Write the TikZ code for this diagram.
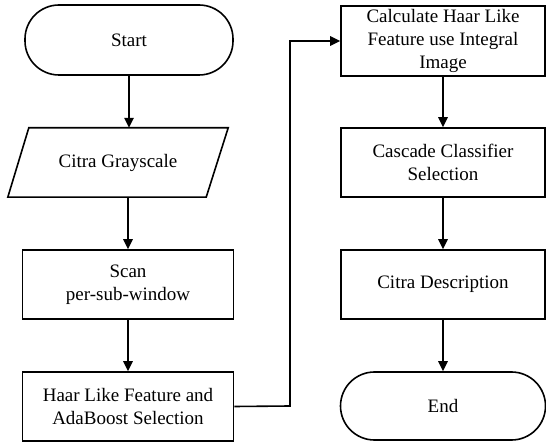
\documentclass[tikz,border=0pt]{standalone}
\usepackage{fontspec}
\setmainfont{Liberation Serif}
\usetikzlibrary{arrows.meta}

\tikzset{
  box/.style={draw, line width=1.6pt, rectangle, align=center,
    font=\fontsize{19}{23}\selectfont, inner sep=0pt},
  terminal/.style={box, rounded corners=34pt},
  plain/.style={align=center, font=\fontsize{19}{23}\selectfont, inner sep=0pt},
  arr/.style={line width=1.6pt, -{Triangle[length=10pt,width=9.5pt]}},
  link/.style={line width=1.6pt}
}

\begin{document}
\begin{tikzpicture}[x=1pt, y=-1pt]
  \useasboundingbox (0,0) rectangle (546,443);

  % left column
  \node[terminal, minimum width=208pt, minimum height=70pt] (start) at (129,40) {Start};
  \node[plain, minimum width=220pt, minimum height=69pt] (gray) at (118,162.5) {Citra Grayscale};
  \draw[link, line join=miter]
    (gray.south west) -- ([xshift=-22pt]gray.south east) -- (gray.north east)
    -- ([xshift=21pt]gray.north west) -- cycle;
  \node[box, minimum width=211pt, minimum height=69pt] (scan) at (128,284.5) {Scan\\per-sub-window};
  \node[box, minimum width=211pt, minimum height=69pt] (haar) at (128,406.5) {Haar Like Feature and\\AdaBoost Selection};

  % right column
  \node[box, minimum width=204pt, minimum height=70pt] (calc) at (443,41) {Calculate Haar Like\\Feature use Integral\\Image};
  \node[box, minimum width=204pt, minimum height=69pt] (casc) at (443,162.5) {Cascade Classifier\\Selection};
  \node[box, minimum width=204pt, minimum height=69pt] (desc) at (443,284.5) {Citra Description};
  \node[terminal, minimum width=205pt, minimum height=68pt] (end) at (443,406) {End};

  % connectors
  \draw[arr] (start.south) -- (start.south |- gray.north);
  \draw[arr] (scan.north |- gray.south) -- (scan.north);
  \draw[arr] (scan.south) -- (haar.north);
  \coordinate (elbow) at (290,406);
  \draw[arr, line join=miter] (haar.east) -- (elbow) |- (calc.west);
  \draw[arr] (calc.south) -- (casc.north);
  \draw[arr] (casc.south) -- (desc.north);
  \draw[arr] (desc.south) -- (end.north);
\end{tikzpicture}
\end{document}
